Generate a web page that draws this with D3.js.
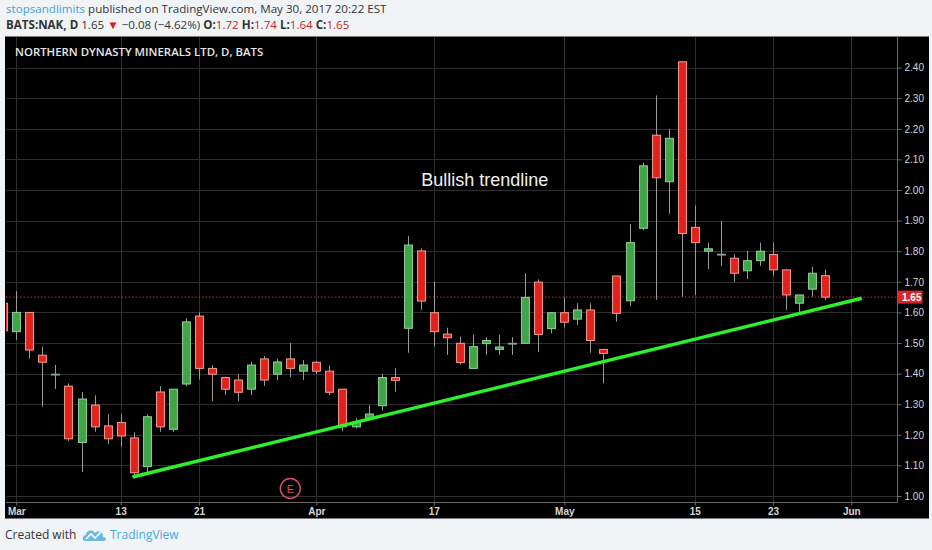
<!DOCTYPE html>
<html><head><meta charset="utf-8">
<script src="https://cdn.jsdelivr.net/npm/d3@7"></script>
<style>
html,body{margin:0;padding:0;background:#f1f4f6;}
svg{display:block;}
</style></head><body>
<svg id="c" width="932" height="550"></svg>
<script>
// ---------- data ----------
const dates = ["Feb 28","Mar 1","Mar 2","Mar 3","Mar 6","Mar 7","Mar 8","Mar 9","Mar 10","Mar 13","Mar 14","Mar 15","Mar 16","Mar 17","Mar 20","Mar 21","Mar 22","Mar 23","Mar 24","Mar 27","Mar 28","Mar 29","Mar 30","Mar 31","Apr 3","Apr 4","Apr 5","Apr 6","Apr 7","Apr 10","Apr 11","Apr 12","Apr 13","Apr 17","Apr 18","Apr 19","Apr 20","Apr 21","Apr 24","Apr 25","Apr 26","Apr 27","Apr 28","May 1","May 2","May 3","May 4","May 5","May 8","May 9","May 10","May 11","May 12","May 15","May 16","May 17","May 18","May 19","May 22","May 23","May 24","May 25","May 26","May 30"];
const openP  = [1.63,1.537,1.600,1.460,1.398,1.359,1.175,1.297,1.229,1.240,1.190,1.096,1.340,1.218,1.366,1.588,1.417,1.387,1.379,1.349,1.448,1.398,1.448,1.408,1.437,1.408,1.349,1.226,1.254,1.295,1.387,1.548,1.801,1.599,1.529,1.499,1.417,1.498,1.479,1.499,1.499,1.699,1.547,1.599,1.578,1.608,1.479,1.719,1.638,1.875,2.179,2.027,2.419,1.878,1.800,1.790,1.777,1.736,1.769,1.789,1.739,1.630,1.676,1.72];
const highP  = [1.66,1.670,1.600,1.488,1.428,1.368,1.340,1.329,1.267,1.267,1.208,1.267,1.359,1.349,1.581,1.600,1.428,1.390,1.398,1.438,1.457,1.448,1.500,1.444,1.440,1.426,1.350,1.254,1.297,1.399,1.417,1.850,1.809,1.700,1.550,1.521,1.528,1.519,1.528,1.519,1.728,1.708,1.599,1.649,1.630,1.630,1.479,1.719,1.889,2.090,2.309,2.200,2.419,1.949,1.828,1.899,1.790,1.801,1.828,1.828,1.739,1.657,1.749,1.74];
const lowP   = [1.52,1.510,1.449,1.292,1.350,1.179,1.078,1.210,1.170,1.161,1.069,1.074,1.210,1.210,1.359,1.381,1.310,1.330,1.310,1.330,1.360,1.379,1.388,1.379,1.399,1.330,1.212,1.221,1.251,1.279,1.341,1.468,1.608,1.488,1.461,1.430,1.417,1.461,1.461,1.461,1.499,1.470,1.532,1.551,1.559,1.468,1.368,1.570,1.621,1.869,1.641,1.922,1.651,1.657,1.741,1.752,1.700,1.709,1.752,1.720,1.608,1.599,1.651,1.64];
const closeP = [1.54,1.600,1.477,1.437,1.398,1.187,1.317,1.226,1.187,1.196,1.076,1.259,1.226,1.349,1.569,1.417,1.398,1.349,1.339,1.428,1.379,1.438,1.417,1.428,1.408,1.339,1.226,1.241,1.268,1.387,1.378,1.820,1.637,1.537,1.517,1.436,1.488,1.508,1.487,1.499,1.649,1.528,1.599,1.568,1.608,1.508,1.466,1.597,1.828,2.079,2.040,2.169,1.858,1.828,1.808,1.790,1.728,1.769,1.800,1.739,1.657,1.657,1.728,1.65];
const firstIndex = -1;            // Feb 28 sits one trading day before Mar 1
const xTickIdx    = [0, 8, 14, 23, 32, 42, 52, 58, 64];
const xTickLabels = ["Mar","13","21","Apr","17","May","15","23","Jun"];
const yTicks = [1.00,1.10,1.20,1.30,1.40,1.50,1.60,1.70,1.80,1.90,2.00,2.10,2.20,2.30,2.40];
const lastPrice = 1.65;
const trendIdx   = [8.9, 64.8];
const trendPrice = [1.062, 1.646];
const earningsIdx = 21;
const noteIdx = 35.9, notePrice = 2.013, noteText = "Bullish trendline";
const titleText = "NORTHERN DYNASTY MINERALS LTD, D, BATS";

// ---------- layout ----------
const svg = d3.select("#c");
const P = {left:6, right:897, top:37, bottom:502};
const x = d3.scaleLinear().domain([-0.79, 67.5]).range([P.left, P.right]);
const y = d3.scaleLinear().domain([1.0, 2.4]).range([496, 67.6]);
const step = x(1) - x(0);
const bw = step * 0.6;

const candles = dates.map((d,i)=>({date:d, idx:i+firstIndex, o:openP[i], h:highP[i], l:lowP[i], c:closeP[i]}));

// header
const hdr = svg.append("text").attr("x",6).attr("y",12.5)
  .style("font-family","'Open Sans', sans-serif").style("font-size","11.6px");
hdr.append("tspan").attr("fill","#3ea3d9").text("stopsandlimits");
hdr.append("tspan").attr("fill","#333").text(" published on TradingView.com, May 30, 2017 20:22 EST");

const h2 = svg.append("text").attr("x",6).attr("y",29)
  .style("font-family","'Open Sans', sans-serif").style("font-size","11.6px").attr("fill","#333");
h2.append("tspan").attr("font-weight","bold").text("BATS:NAK, D");
h2.append("tspan").text(" 1.65 ");
h2.append("tspan").attr("fill","#d32020").text("▼");
h2.append("tspan").text(" −0.08 (−4.62%) ");
h2.append("tspan").attr("font-weight","bold").text("O:");
h2.append("tspan").attr("fill","#c0282a").text("1.72 ");
h2.append("tspan").attr("font-weight","bold").text("H:");
h2.append("tspan").attr("fill","#c0282a").text("1.74 ");
h2.append("tspan").attr("font-weight","bold").text("L:");
h2.append("tspan").attr("fill","#c0282a").text("1.64 ");
h2.append("tspan").attr("font-weight","bold").text("C:");
h2.append("tspan").attr("fill","#c0282a").text("1.65");

// chart panel
svg.append("rect").attr("x",5).attr("y",36.5).attr("width",924).attr("height",482).attr("fill","#000");

svg.append("defs").append("clipPath").attr("id","clip")
  .append("rect").attr("x",P.left).attr("y",P.top).attr("width",P.right-P.left).attr("height",P.bottom-P.top);

// grid
const grid = svg.append("g").attr("stroke","#2e2e2e").attr("stroke-width",1);
grid.selectAll("line.h").data(yTicks).join("line")
  .attr("x1",P.left).attr("x2",P.right)
  .attr("y1",d=>Math.round(y(d))+0.5).attr("y2",d=>Math.round(y(d))+0.5);
grid.selectAll("line.v").data(xTickIdx).join("line")
  .attr("y1",P.top).attr("y2",P.bottom)
  .attr("x1",d=>Math.round(x(d))+0.5).attr("x2",d=>Math.round(x(d))+0.5);

// title
svg.append("text").attr("x",15).attr("y",56)
  .style("font-family","'Open Sans', sans-serif").style("font-size","11.4px").style("font-weight","600")
  .attr("fill","#e6e6e6").text(titleText);

const plot = svg.append("g").attr("clip-path","url(#clip)");

// last price dotted line
plot.append("line").attr("x1",P.left).attr("x2",P.right)
  .attr("y1",y(lastPrice)).attr("y2",y(lastPrice))
  .attr("stroke","#d42a2a").attr("stroke-width",1).attr("stroke-dasharray","1.5,2");

// candles
const cg = plot.append("g");
cg.selectAll("line.w").data(candles).join("line")
  .attr("x1",d=>Math.round(x(d.idx))+0.5).attr("x2",d=>Math.round(x(d.idx))+0.5)
  .attr("y1",d=>y(d.h)).attr("y2",d=>y(d.l))
  .attr("stroke","#9a9a9a").attr("stroke-width",1);
cg.selectAll("rect.b").data(candles).join("rect")
  .attr("x",d=>Math.round(x(d.idx))+0.5-bw/2)
  .attr("width",bw)
  .attr("y",d=>y(Math.max(d.o,d.c)))
  .attr("height",d=>Math.max(0.8, Math.abs(y(d.o)-y(d.c))))
  .attr("fill",d=>d.c>d.o?"#41a447":(d.c<d.o?"#e0221e":"#6a9a6a"))
  .attr("stroke",d=>d.c>d.o?"#8fd49a":(d.c<d.o?"#f4a08e":"#8aa88a"))
  .attr("stroke-width",1);

// trendline
plot.append("line")
  .attr("x1",x(trendIdx[0])).attr("y1",y(trendPrice[0]))
  .attr("x2",x(trendIdx[1])).attr("y2",y(trendPrice[1]))
  .attr("stroke","#2cf02c").attr("stroke-width",3.5).attr("stroke-linecap","butt");

// annotation
svg.append("text").attr("x",x(noteIdx)).attr("y",y(notePrice)).attr("text-anchor","middle")
  .style("font-family","'Liberation Sans', Arial, sans-serif").style("font-size","18px")
  .attr("fill","#f0f0f0").text(noteText);

// earnings marker
const eg = svg.append("g").attr("transform",`translate(${x(earningsIdx)},488.5)`);
eg.append("circle").attr("r",10).attr("fill","none").attr("stroke","#d9506a").attr("stroke-width",1.4);
eg.append("text").attr("y",4).attr("text-anchor","middle")
  .style("font-family","'Liberation Sans', Arial, sans-serif").style("font-size","11px")
  .attr("fill","#d9506a").text("E");

// axes lines
svg.append("line").attr("x1",P.left).attr("x2",P.right+0.5).attr("y1",P.bottom+0.5).attr("y2",P.bottom+0.5)
  .attr("stroke","#6a6a6a");
svg.append("line").attr("x1",P.right+0.5).attr("x2",P.right+0.5).attr("y1",P.top).attr("y2",P.bottom+0.5)
  .attr("stroke","#6a6a6a");

// right y axis
const yAxis = d3.axisRight(y).tickValues(yTicks).tickFormat(d3.format(".2f")).tickSize(4).tickPadding(3);
const ya = svg.append("g").attr("transform",`translate(${P.right+0.5},0)`).call(yAxis);
ya.select(".domain").remove();
ya.selectAll("line").attr("stroke","#6a6a6a");
ya.selectAll("text").attr("fill","#d6d6d6")
  .style("font-family","'Liberation Sans', Arial, sans-serif").style("font-size","10px");

// last price label
svg.append("rect").attr("x",P.right+0.5).attr("y",y(lastPrice)-6.5).attr("width",25).attr("height",13).attr("fill","#d8262b");
svg.append("text").attr("x",P.right+5).attr("y",y(lastPrice)+3.8)
  .style("font-family","'Liberation Sans', Arial, sans-serif").style("font-size","10px").style("font-weight","bold")
  .attr("fill","#fff").text(d3.format(".2f")(lastPrice));

// bottom x axis
const xAxis = d3.axisBottom(x).tickValues(xTickIdx).tickFormat((d,i)=>xTickLabels[i]).tickSize(3).tickPadding(2);
const xa = svg.append("g").attr("transform",`translate(0,${P.bottom+0.5})`).call(xAxis);
xa.select(".domain").remove();
xa.selectAll("line").attr("stroke","#6a6a6a");
xa.selectAll("text").attr("fill","#d6d6d6")
  .style("font-family","'Liberation Sans', Arial, sans-serif").style("font-size","10px").style("font-weight","bold");

// footer
svg.append("text").attr("x",5).attr("y",539)
  .style("font-family","'Open Sans', sans-serif").style("font-size","12px").attr("fill","#333").text("Created with");
const logo = svg.append("g").attr("transform","translate(83,527)");
logo.append("path").attr("d","M2,14 C-1,14 -1,8 3,8 C3,3 10,2 12,6 C15,3 21,5 20,10 C24,10 24,14 20,14 Z").attr("fill","#6cb9e3");
logo.append("path").attr("d","M3,12 L8,7 L12,11 L18,5").attr("fill","none").attr("stroke","#fff").attr("stroke-width",1.6);
svg.append("text").attr("x",110).attr("y",539)
  .style("font-family","'Open Sans', sans-serif").style("font-size","12px").attr("fill","#4aa8dd").text("TradingView");
</script></body></html>
